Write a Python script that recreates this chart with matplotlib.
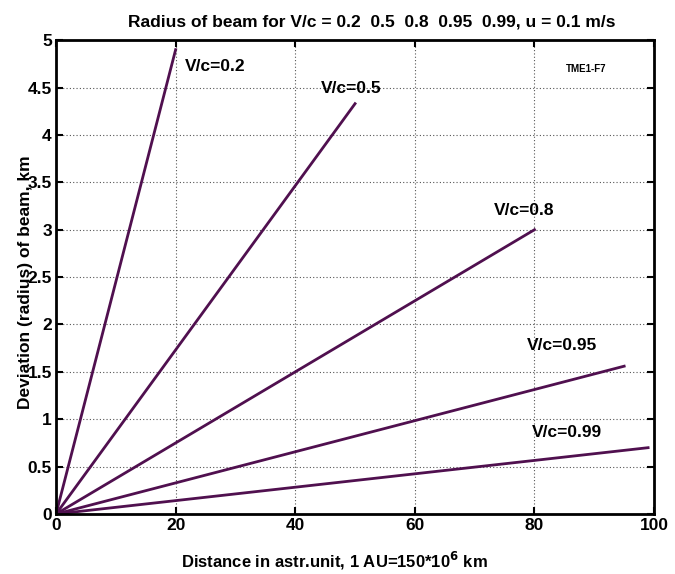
import numpy as np
import matplotlib
matplotlib.use('Agg')
from matplotlib import rcParams

rcParams['font.family'] = 'sans-serif'
rcParams['font.sans-serif'] = ['Liberation Sans', 'DejaVu Sans']
rcParams['font.weight'] = 'bold'

import matplotlib.pyplot as plt

# end points of each line, every line starts at origin
speeds = ['0.2', '0.5', '0.8', '0.95', '0.99']
x_end = [20, 50, 80, 95, 99]
y_end = [4.90, 4.33, 3.00, 1.56, 0.70]

# where the labels sit (left, baseline)
label_xy = [(21.5, 4.68), (44.3, 4.44), (73.2, 3.15), (78.8, 1.73), (79.5, 0.81)]

lineColor = '#50104f'

fig = plt.figure(figsize=(6.75, 5.74), dpi=100)
ax = fig.add_axes([0.083, 0.1045, 0.886, 0.8255])

for v, xe, ye, pos in zip(speeds, x_end, y_end, label_xy):
    ax.plot([0, xe], [0, ye], color=lineColor, linewidth=2)
    ax.text(pos[0], pos[1], 'V/c=' + v, fontsize=12.5, fontweight='bold',
            ha='left', va='baseline')

ax.text(85.2, 4.66, 'TME1-F7', fontsize=7, fontweight='bold', ha='left', va='baseline')

ax.set_xlim(0, 100)
ax.set_ylim(0, 5)
ax.set_xticks(np.arange(0, 101, 20))
ax.set_yticks(np.arange(0, 5.01, 0.5))
ax.set_yticklabels(['0', '0.5', '1', '1.5', '2', '2.5', '3', '3.5', '4', '4.5', '5'])
ax.tick_params(direction='in', labelsize=12.5, width=1.5, length=5, top=True, right=True, pad=3)
for lab in ax.get_xticklabels() + ax.get_yticklabels():
    lab.set_fontweight('bold')
ax.grid(True, linestyle=(0, (1, 2)), color='#555555', linewidth=0.8)
for s in ax.spines.values():
    s.set_linewidth(2)

ax.set_title('Radius of beam for V/c = 0.2  0.5  0.8  0.95  0.99, u = 0.1 m/s',
             fontsize=12.5, fontweight='bold', pad=10, x=0.528)
ax.set_xlabel('Distance in astr.unit, 1 AU=150*10$^{\\mathbf{6}}$ km', fontsize=12, fontweight='bold')
ax.set_ylabel('Deviation (radius) of beam, km', fontsize=12.5, fontweight='bold')
ax.xaxis.set_label_coords(0.466, -0.075)
ax.yaxis.set_label_coords(-0.038, 0.49)

fig.savefig('out.png', dpi=100)
